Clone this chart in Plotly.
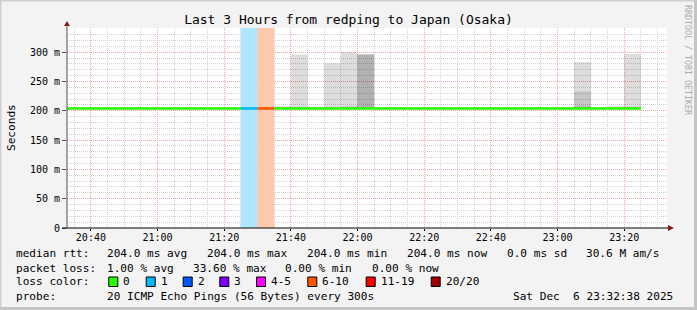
import plotly.graph_objects as go
from datetime import datetime, timedelta

# ---------------- data ----------------
step_starts = [
    "2025-12-06 20:30", "2025-12-06 20:35", "2025-12-06 20:40", "2025-12-06 20:45",
    "2025-12-06 20:50", "2025-12-06 20:55", "2025-12-06 21:00", "2025-12-06 21:05",
    "2025-12-06 21:10", "2025-12-06 21:15", "2025-12-06 21:20", "2025-12-06 21:25",
    "2025-12-06 21:30", "2025-12-06 21:35", "2025-12-06 21:40", "2025-12-06 21:45",
    "2025-12-06 21:50", "2025-12-06 21:55", "2025-12-06 22:00", "2025-12-06 22:05",
    "2025-12-06 22:10", "2025-12-06 22:15", "2025-12-06 22:20", "2025-12-06 22:25",
    "2025-12-06 22:30", "2025-12-06 22:35", "2025-12-06 22:40", "2025-12-06 22:45",
    "2025-12-06 22:50", "2025-12-06 22:55", "2025-12-06 23:00", "2025-12-06 23:05",
    "2025-12-06 23:10", "2025-12-06 23:15", "2025-12-06 23:20",
]
median_rtt = [
    204.0, 204.0, 204.0, 204.0, 204.0, 204.0, 204.0, 204.0, 204.0, 204.0,
    204.0, 204.0, 204.0, 204.0, 204.0, 204.0, 204.0, 204.0, 204.0, 204.0,
    204.0, 204.0, 204.0, 204.0, 204.0, 204.0, 204.0, 204.0, 204.0, 204.0,
    204.0, 204.0, 204.0, 204.0, 204.0,
]
loss_pings = [
    0, 0, 0, 0, 0, 0, 0, 0, 0, 0,
    0, 1, 7, 0, 0, 0, 0, 0, 0, 0,
    0, 0, 0, 0, 0, 0, 0, 0, 0, 0,
    0, 0, 0, 0, 0,
]
min_rtt = 204.0

# smoke (ping spread) per step: outer / middle / inner tops (ms)
smoke_times = ["2025-12-06 21:35", "2025-12-06 21:40", "2025-12-06 21:45", "2025-12-06 21:50",
               "2025-12-06 21:55", "2025-12-06 22:00", "2025-12-06 23:00", "2025-12-06 23:05",
               "2025-12-06 23:15", "2025-12-06 23:20"]
smoke_outer = [208, 296, 207, 281, 300, 296, 206, 283, 208, 297]
smoke_mid   = [None, None, None, None, 208, 296, None, 233, None, 207]
smoke_inner = [None, None, None, None, None, 296, None, 208, None, None]

y_ticks = [0, 50, 100, 150, 200, 250, 300]
y_tick_labels = ["0", "50 m", "100 m", "150 m", "200 m", "250 m", "300 m"]

loss_classes = ["0", "1", "2", "3", "4-5", "6-10", "11-19", "20/20"]
loss_colors = ["#26ff00", "#00b8ff", "#0059ff", "#7e00ff", "#ff00ff", "#ff5500", "#ff0000", "#a10000"]
loss_bg_colors = ["#bfffb0", "#aae6ff", "#aac6ff", "#d4aaff", "#ffaaff", "#ffc6aa", "#ffaaaa", "#e0aaaa"]

# ---------------- layout constants ----------------
W, H = 697, 310
L, R, T, B = 67, 30, 28, 82
PW, PH = W - L - R, H - T - B
Y_TOP = 341.3
STEP = timedelta(minutes=5)
FMT = "%Y-%m-%d %H:%M"
MONO = "DejaVu Sans Mono"


def px(x):
    return (x - L) / PW


def py(y):
    return (T + PH - y) / PH


def loss_class(n):
    if n == 0:
        return 0
    if n == 1:
        return 1
    if n == 2:
        return 2
    if n == 3:
        return 3
    if n <= 5:
        return 4
    if n <= 10:
        return 5
    if n <= 19:
        return 6
    return 7


def center(t):
    return (datetime.strptime(t, FMT) + STEP / 2).strftime("%Y-%m-%d %H:%M:%S")


fig = go.Figure()

# loss background columns
for ci in range(len(loss_classes)):
    xs = [center(t) for t, n in zip(step_starts, loss_pings) if n > 0 and loss_class(n) == ci]
    if xs:
        fig.add_trace(go.Bar(x=xs, y=[Y_TOP] * len(xs), base=0, width=300000,
                             marker=dict(color=loss_bg_colors[ci], line=dict(width=0)),
                             opacity=0.95, showlegend=False, hoverinfo="skip"))

# smoke layers
for arr, col in [(smoke_outer, "rgba(0,0,0,0.133)"), (smoke_mid, "rgba(0,0,0,0.10)"),
                 (smoke_inner, "rgba(0,0,0,0.10)")]:
    xs, ys = [], []
    for t, v in zip(smoke_times, arr):
        if v is not None:
            xs.append(center(t))
            ys.append(v - min_rtt)
    fig.add_trace(go.Bar(x=xs, y=ys, base=min_rtt, width=300000,
                         marker=dict(color=col, line=dict(width=0)),
                         showlegend=False, hoverinfo="skip"))

# median line coloured by loss
for ci in range(len(loss_classes)):
    xs, ys = [], []
    for t, m, n in zip(step_starts, median_rtt, loss_pings):
        if loss_class(n) == ci:
            t0 = datetime.strptime(t, FMT)
            xs += [t0, t0 + STEP, None]
            ys += [m, m, None]
    if xs:
        fig.add_trace(go.Scatter(x=xs, y=ys, mode="lines",
                                 line=dict(color=loss_colors[ci], width=2.6),
                                 showlegend=False, hoverinfo="skip"))

shapes = []
# frame
shapes.append(dict(type="rect", xref="paper", yref="paper", x0=px(0.5), x1=px(W - 1.5),
                   y0=py(H - 1.5), y1=py(0.5), line=dict(color="#cfcfcf", width=2),
                   fillcolor="rgba(0,0,0,0)", layer="below"))
shapes.append(dict(type="line", xref="paper", yref="paper", x0=px(W - 1.5), x1=px(W - 1.5),
                   y0=py(0), y1=py(H), line=dict(color="#c4c4c4", width=3)))
shapes.append(dict(type="line", xref="paper", yref="paper", x0=px(0), x1=px(W),
                   y0=py(H - 1.5), y1=py(H - 1.5), line=dict(color="#c4c4c4", width=3)))
# axis extensions and arrows
shapes.append(dict(type="line", xref="paper", yref="paper", x0=px(67), x1=px(67),
                   y0=py(228), y1=py(25), line=dict(color="#505050", width=1)))
shapes.append(dict(type="line", xref="paper", yref="paper", x0=px(62), x1=px(669),
                   y0=py(228), y1=py(228), line=dict(color="#000000", width=1)))
shapes.append(dict(type="path", xref="paper", yref="paper",
                   path=f"M {px(67)},{py(21)} L {px(64)},{py(26)} L {px(70)},{py(26)} Z",
                   fillcolor="#8b1a1a", line=dict(color="#8b1a1a", width=0)))
shapes.append(dict(type="path", xref="paper", yref="paper",
                   path=f"M {px(674)},{py(228)} L {px(668)},{py(225)} L {px(668)},{py(231)} Z",
                   fillcolor="#8b1a1a", line=dict(color="#8b1a1a", width=0)))

annotations = []


def text(x, y, s, size=11.1, color="#000000", anchor="left", angle=0):
    annotations.append(dict(x=px(x), y=py(y), xref="paper", yref="paper", text=s.replace(" ", "\u00a0"),
                            showarrow=False, xanchor=anchor, yanchor="middle", textangle=angle,
                            font=dict(family=MONO, size=size, color=color), borderpad=0, borderwidth=0))


# legend lines
line1 = [(16, "median rtt:"), (107.3, "204.0 ms avg"), (207.3, "204.0 ms max"),
         (307.3, "204.0 ms min"), (407.3, "204.0 ms now"), (507.3, "0.0 ms sd"), (586, "30.6 M am/s")]
for x, s in line1:
    text(x, 254, s)
line2 = [(16, "packet loss:"), (107.3, "1.00 % avg"), (193.3, "33.60 % max"),
         (285, "0.00 % min"), (372.3, "0.00 % now")]
for x, s in line2:
    text(x, 268.5, s)
text(16, 281.7, "loss color:")
box_x = [108.3, 145.7, 182.7, 219.3, 256, 307.3, 365.7, 430.7]
for bx, lab, col in zip(box_x, loss_classes, loss_colors):
    shapes.append(dict(type="rect", xref="paper", yref="paper", x0=px(bx + 0.5), x1=px(bx + 9.5),
                       y0=py(286.5), y1=py(277), fillcolor=col, line=dict(color="#000000", width=1)))
    text(bx + 15, 281.7, lab)
text(16, 296.7, "probe:")
text(107.3, 296.7, "20 ICMP Echo Pings (56 Bytes) every 300s")
text(513.3, 296.7, "Sat Dec  6 23:32:38 2025")

# y-axis title and watermark
text(11, 128, "Seconds", anchor="center", angle=-90)
text(688, 60, "RRDTOOL / TOBI OETIKER", size=8.3, color="#ababab", anchor="center", angle=90)

fig.update_layout(
    width=W, height=H,
    margin=dict(l=L, r=R, t=T, b=B, pad=0),
    paper_bgcolor="#f3f3f3",
    plot_bgcolor="#ffffff",
    barmode="overlay",
    showlegend=False,
    title=dict(text="Last 3 Hours from redping to Japan (Osaka)", x=0.5, xref="container",
               y=1 - 19 / H, yref="container", yanchor="middle", xanchor="center",
               font=dict(family=MONO, size=13, color="#000000")),
    shapes=shapes,
    annotations=annotations,
    xaxis=dict(
        type="date",
        range=["2025-12-06 20:32:50", "2025-12-06 23:32:50"],
        tick0="2025-12-06 20:40:00", dtick=1200000, tickformat="%H:%M",
        showgrid=True, gridcolor="#f2a3a3", griddash="1px,1px", gridwidth=1,
        minor=dict(dtick=300000, showgrid=True, gridcolor="#d2d2d2", griddash="1px,1px", ticks=""),
        ticks="outside", ticklen=2, tickcolor="#000000", ticklabelstandoff=-2,
        showline=False, zeroline=False,
        tickfont=dict(family=MONO, size=10, color="#000000"),
        fixedrange=True,
    ),
    yaxis=dict(
        range=[0, Y_TOP],
        tickvals=y_ticks, ticktext=y_tick_labels,
        showgrid=True, gridcolor="#f2a3a3", griddash="1px,1px", gridwidth=1,
        minor=dict(dtick=10, showgrid=True, gridcolor="#d2d2d2", griddash="1px,1px", ticks=""),
        ticks="outside", ticklen=4, tickcolor="#505050",
        showline=False, zeroline=False,
        tickfont=dict(family=MONO, size=10, color="#000000"),
        fixedrange=True,
    ),
)

fig.write_html("out.html")
